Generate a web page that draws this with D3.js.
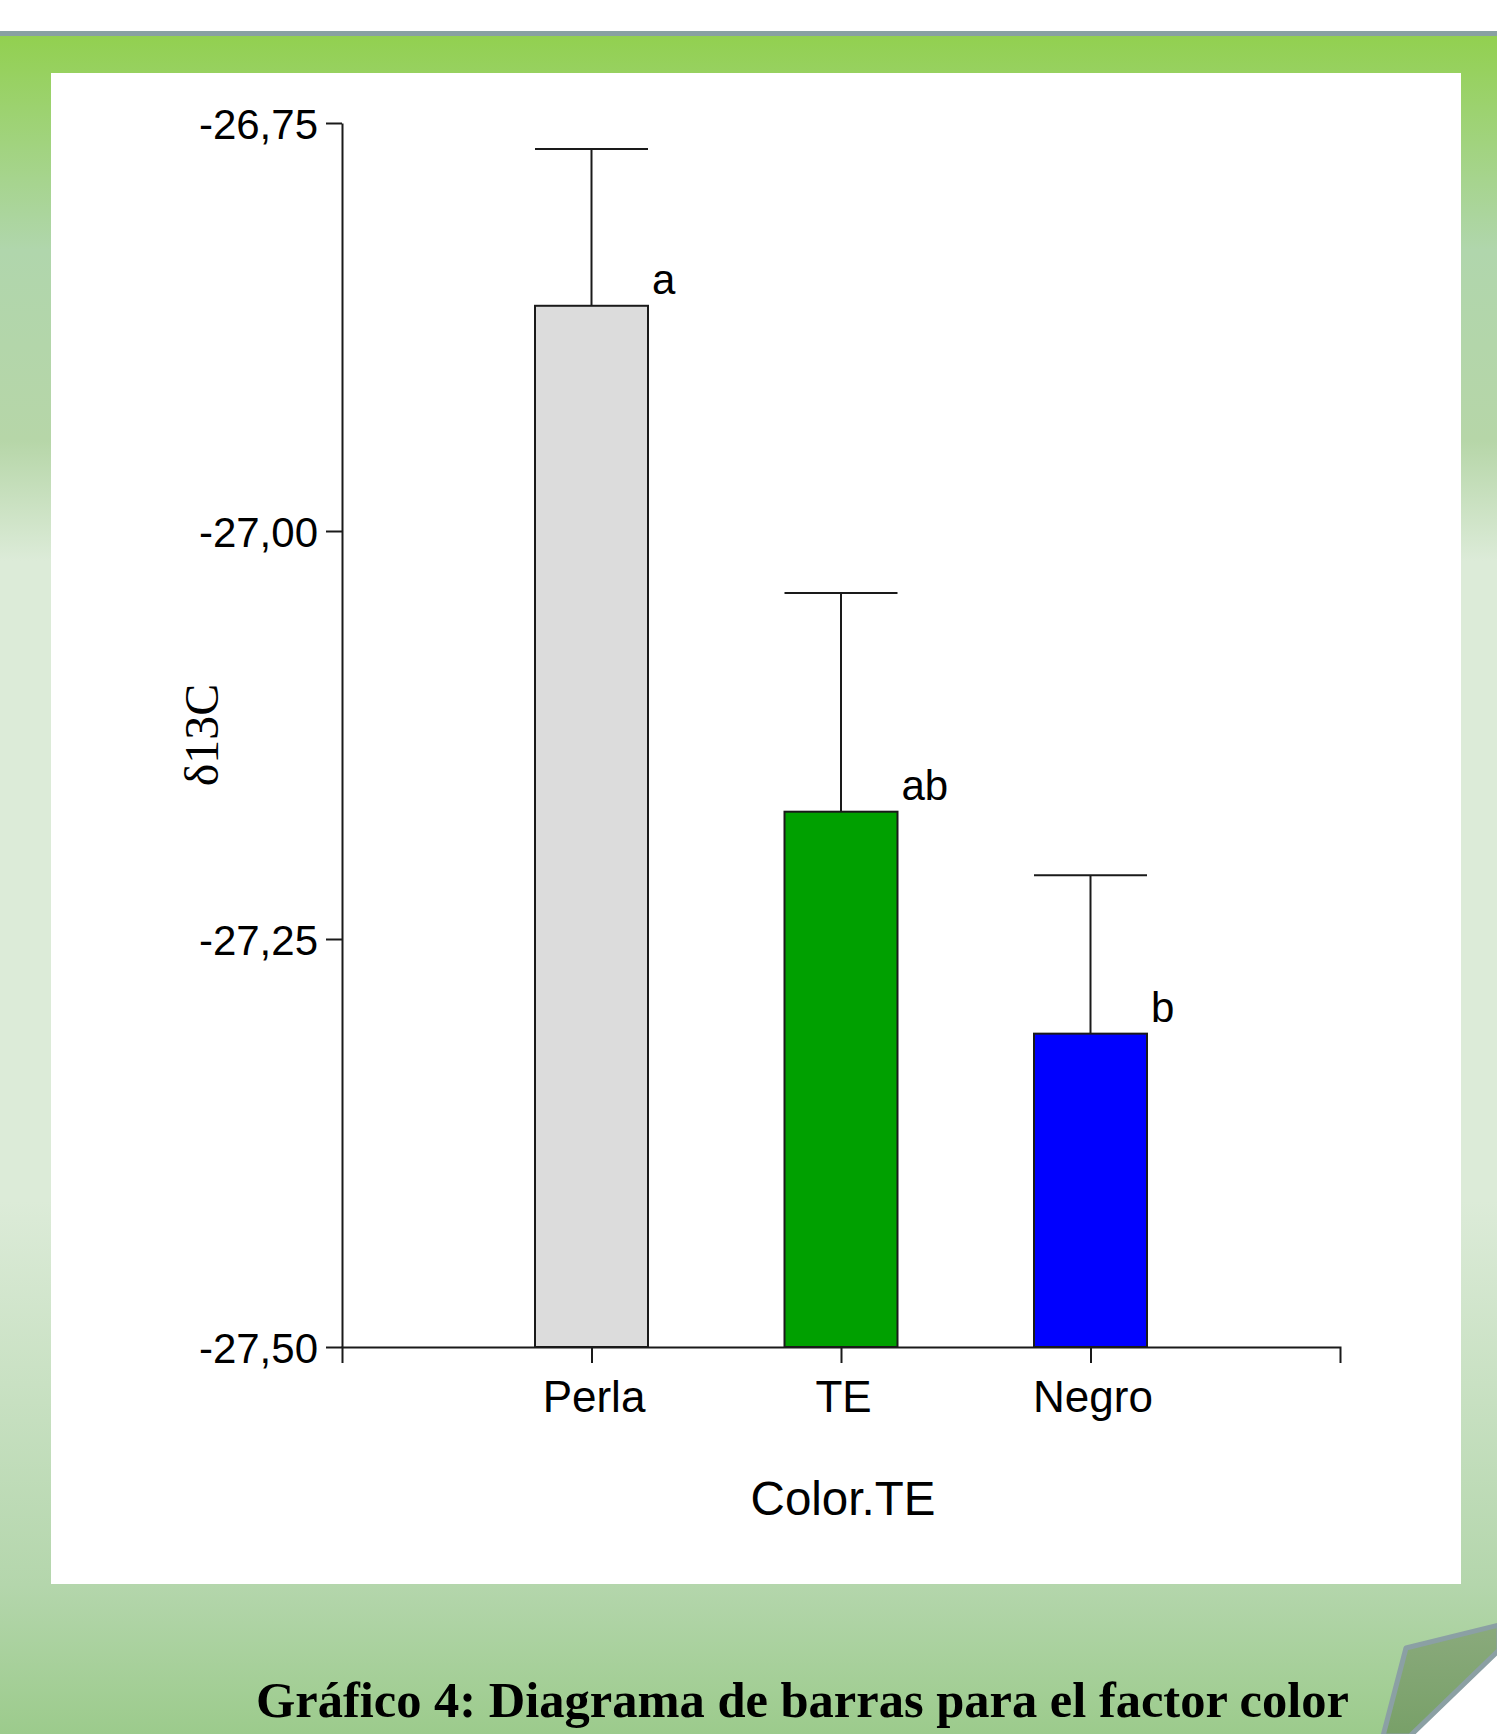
<!DOCTYPE html>
<html>
<head>
<meta charset="utf-8">
<script src="https://cdn.jsdelivr.net/npm/d3@7"></script>
<style>
  html, body { margin: 0; padding: 0; background: #fff; }
  svg { display: block; }
</style>
</head>
<body>
<script>
// Group means of δ13C by colour class, with standard errors and significance letters
const categories = ["Perla", "TE", "Negro"];
const means = [-26.862, -27.172, -27.308];
const stdErrors = [0.096, 0.134, 0.097];
const letters = ["a", "ab", "b"];
const barColors = ["#dcdcdc", "#00a000", "#0000ff"];
const yTicks = [-26.75, -27.00, -27.25, -27.50];
const yDomain = [-27.50, -26.75];

const W = 1497, H = 1734;
const svg = d3.select("body").append("svg").attr("width", W).attr("height", H);
const defs = svg.append("defs");

// Slide background: green gradient frame around a white panel
const bg = defs.append("linearGradient").attr("id", "bgGrad")
  .attr("x1", 0).attr("y1", 0).attr("x2", 0).attr("y2", 1);
[[0, "#92d050"], [0.126, "#b0d6ac"], [0.238, "#b6d6a8"], [0.309, "#dcebd8"],
 [0.686, "#dcebd8"], [0.912, "#b4d6ac"], [1, "#9ccb8c"]]
  .forEach(([o, c]) => bg.append("stop").attr("offset", o).attr("stop-color", c));

svg.append("rect").attr("width", W).attr("height", H).attr("fill", "#fff");
svg.append("rect").attr("x", 0).attr("y", 31).attr("width", W).attr("height", 5).attr("fill", "#88a0a2");
svg.append("rect").attr("x", 0).attr("y", 36).attr("width", W).attr("height", H - 36).attr("fill", "url(#bgGrad)");
svg.append("rect").attr("x", 51).attr("y", 73).attr("width", 1410).attr("height", 1511).attr("fill", "#fff");

// Turned page corner at bottom right
const flap = defs.append("linearGradient").attr("id", "flapGrad")
  .attr("x1", 0).attr("y1", 0).attr("x2", 0).attr("y2", 1);
flap.append("stop").attr("offset", 0).attr("stop-color", "#8aaa7c");
flap.append("stop").attr("offset", 1).attr("stop-color", "#78a068");
svg.append("polygon").attr("points", "1410,1734 1497,1650 1497,1734").attr("fill", "#fff");
svg.append("polygon")
  .attr("points", "1383,1736 1406,1648 1499,1625 1499,1650 1410,1736")
  .attr("fill", "url(#flapGrad)").attr("stroke", "#8ba0a4").attr("stroke-width", 5)
  .attr("stroke-linejoin", "round");

// Caption
svg.append("text").attr("x", 256).attr("y", 1717)
  .attr("font-family", "'Liberation Serif', 'Times New Roman', serif")
  .attr("font-weight", "bold").attr("font-size", 50.5).attr("fill", "#000")
  .text("Gráfico 4: Diagrama de barras para el factor color");

// Chart
const x = d3.scalePoint().domain(categories).range([342, 1340]).padding(1);
const y = d3.scaleLinear().domain(yDomain).range([1347, 123]);
const barW = 113;

const locale = d3.formatLocale({ decimal: ",", thousands: ".", grouping: [3], currency: ["", ""], minus: "-" });
const fmt = locale.format(".2f");

const sans = "'Liberation Sans', Arial, sans-serif";
const ink = "#1a1a1a";

const rows = categories.map((c, i) => ({ c, m: means[i], se: stdErrors[i], l: letters[i], col: barColors[i] }));

// Error bars (upper half only)
const eb = svg.append("g").attr("stroke", ink).attr("stroke-width", 2);
rows.forEach(d => {
  eb.append("line").attr("x1", x(d.c)).attr("x2", x(d.c)).attr("y1", y(d.m)).attr("y2", y(d.m + d.se));
  eb.append("line").attr("x1", x(d.c) - barW / 2).attr("x2", x(d.c) + barW / 2)
    .attr("y1", y(d.m + d.se)).attr("y2", y(d.m + d.se));
});

// Bars
svg.append("g").selectAll("rect").data(rows).join("rect")
  .attr("x", d => x(d.c) - barW / 2).attr("width", barW)
  .attr("y", d => y(d.m)).attr("height", d => y(yDomain[0]) - y(d.m))
  .attr("fill", d => d.col).attr("stroke", ink).attr("stroke-width", 2);

// Significance letters
svg.append("g").selectAll("text").data(rows).join("text")
  .attr("x", d => x(d.c) + barW / 2 + 4).attr("y", d => y(d.m) - 12)
  .attr("font-family", sans).attr("font-size", 42).attr("fill", "#000")
  .text(d => d.l);

// Y axis
const yAxis = svg.append("g").attr("transform", "translate(342,0)")
  .call(d3.axisLeft(y).tickValues(yTicks).tickSize(16).tickSizeOuter(0).tickPadding(8).tickFormat(fmt));
yAxis.selectAll("path, line").attr("stroke", ink).attr("stroke-width", 2);
yAxis.selectAll("text").attr("font-family", sans).attr("font-size", 42).attr("fill", "#000").attr("dy", "0.36em");

// X axis
const xAxis = svg.append("g").attr("transform", `translate(0,${y(yDomain[0])})`)
  .call(d3.axisBottom(x).tickSize(16).tickSizeOuter(16).tickPadding(18));
xAxis.selectAll("path, line").attr("stroke", ink).attr("stroke-width", 2);
xAxis.selectAll("text").attr("font-family", sans).attr("font-size", 44).attr("fill", "#000").attr("dx", 2);

// Axis titles
svg.append("text").attr("x", 843).attr("y", 1515).attr("text-anchor", "middle")
  .attr("font-family", sans).attr("font-size", 47.5).attr("fill", "#000").text("Color.TE");
svg.append("text").attr("transform", "translate(218,735) rotate(-90)").attr("text-anchor", "middle")
  .attr("font-family", "'Liberation Serif', 'Times New Roman', serif").attr("font-size", 48)
  .attr("fill", "#000").text("δ13C");
</script>
</body>
</html>
